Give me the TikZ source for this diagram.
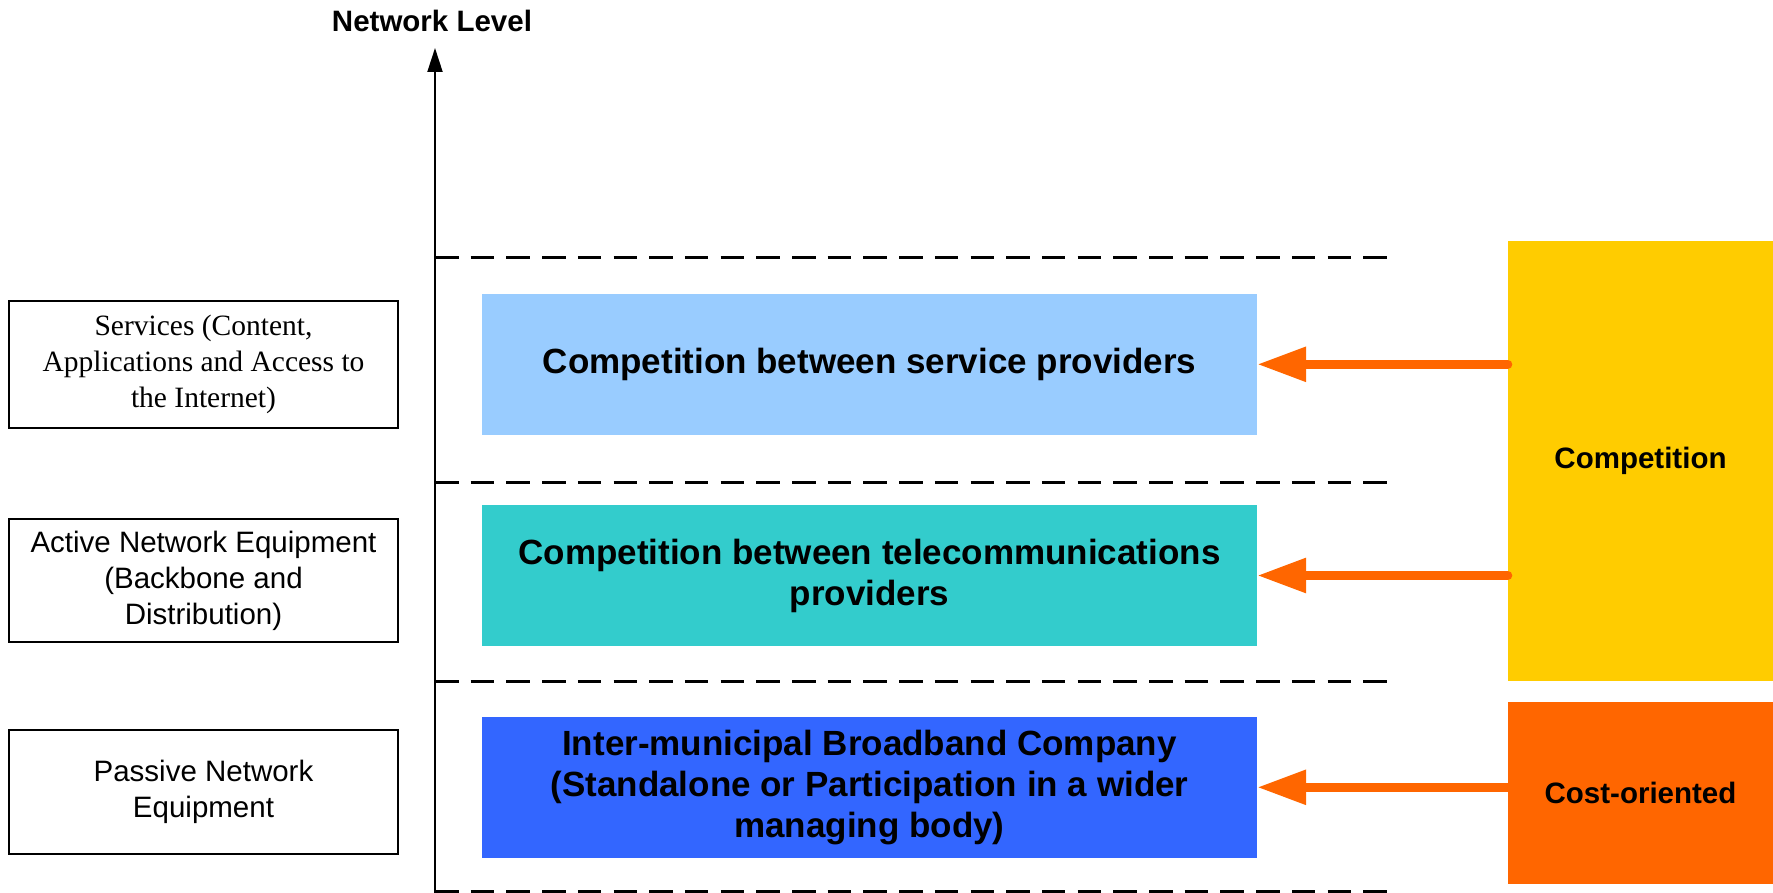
\documentclass[tikz,border=0pt]{standalone}
\usepackage{fontspec}
\setmainfont{Liberation Serif}
\setsansfont{Liberation Sans}
\usetikzlibrary{arrows.meta}
\definecolor{svcblue}{HTML}{99CCFF}
\definecolor{telteal}{HTML}{33CCCC}
\definecolor{infblue}{HTML}{3366FF}
\definecolor{compyellow}{HTML}{FFCC00}
\definecolor{costorange}{HTML}{FF6600}

\begin{document}
\begin{tikzpicture}[x=1pt,y=-1pt,
  levelbox/.style={draw=black, line width=1.5pt, minimum width=389pt,
    inner sep=0pt, align=center,
    font=\sffamily\fontsize{29.5}{36}\selectfont},
  layerbox/.style={fill=#1, draw=none, minimum width=775pt, minimum height=140.5pt,
    inner sep=0pt, align=center,
    font=\sffamily\bfseries\fontsize{35}{41}\selectfont},
  sidebox/.style={fill=#1, draw=none, minimum width=265pt, inner sep=0pt,
    align=center, font=\sffamily\bfseries\fontsize{29.5}{36}\selectfont},
  divider/.style={black, line width=3pt, dash pattern=on 23.5pt off 12.2pt},
  feed/.style={costorange, line width=9pt, line cap=round,
    -{Triangle[length=49pt,width=33pt]}},
]
\useasboundingbox (0,0) rectangle (1773,893);

% vertical axis
\coordinate (axisbot) at (435,893);
\coordinate (axistop) at (435,48);
\draw[line width=2pt, -{Triangle[length=24pt,width=15pt]}] (axisbot) -- (axistop);
\node[font=\sffamily\bfseries\fontsize{29.5}{36}\selectfont] (axislabel) at (432,21) {Network Level};

% level dividers
\foreach \yy/\nm in {258/d1, 482/d2, 681/d3, 891/d4} {
  \coordinate (\nm a) at (435,\yy);
  \coordinate (\nm b) at (1387,\yy);
  \draw[divider] (\nm a) -- (\nm b);
}

% level descriptions
\node[levelbox, minimum height=127pt, font=\rmfamily\fontsize{29.5}{36}\selectfont]
  (svc) at (203.5,364.5) {Services (Content,\\Applications and Access to\\the Internet)};
\node[levelbox, minimum height=123pt] (act) at (203.5,580.5)
  {Active Network Equipment\\(Backbone and\\Distribution)};
\node[levelbox, minimum height=124pt] (pas) at (203.5,792)
  {Passive Network\\Equipment};

% layers
\node[layerbox=svcblue] (comp1) at (869.5,364.3) {Competition between service providers};
\node[layerbox=telteal] (comp2) at (869.5,575.5) {Competition between telecommunications\\providers};
\node[layerbox=infblue] (comp3) at (869.5,787.3)
  {Inter-municipal Broadband Company\\(Standalone or Participation in a wider\\managing body)};

% regimes
\node[sidebox=compyellow, minimum height=440pt] (yel) at (1640.5,461) {Competition};
\node[sidebox=costorange, minimum height=182pt] (org) at (1640.5,793) {Cost-oriented};

% regime arrows
\draw[feed] (yel.west |- comp1.east) -- (comp1.east);
\draw[feed] (yel.west |- comp2.east) -- (comp2.east);
\draw[feed] (org.west |- comp3.east) -- (comp3.east);
\end{tikzpicture}
\end{document}
